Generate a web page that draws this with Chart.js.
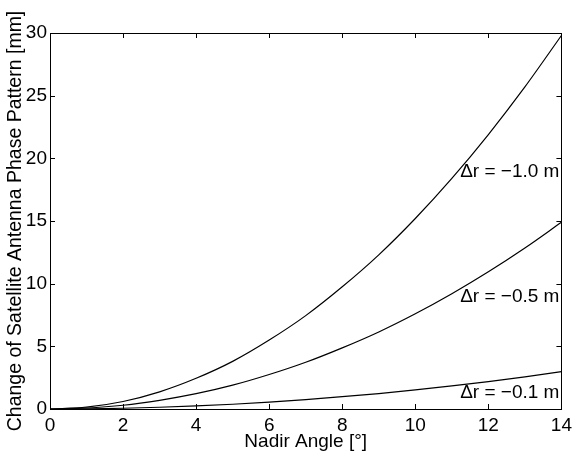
<!DOCTYPE html>
<html>
<head>
<meta charset="utf-8">
<script src="https://cdn.jsdelivr.net/npm/chart.js@4"></script>
<style>
  html, body { margin: 0; padding: 0; background: #fff; }
  #wrap { width: 577px; height: 453px; position: relative; }
</style>
</head>
<body>
<div id="wrap"><canvas id="chart"></canvas></div>
<script>
const nadirAngles = [0, 1, 2, 3, 4, 5, 6, 7, 8, 9, 10, 11, 12, 13, 14];
const dr10 = [0, 0.15, 0.6, 1.37, 2.45, 3.8, 5.5, 7.45, 9.75, 12.3, 15.2, 18.4, 21.9, 25.7, 29.8];
const dr05 = [0, 0.08, 0.3, 0.69, 1.22, 1.9, 2.75, 3.73, 4.88, 6.15, 7.6, 9.2, 10.95, 12.85, 14.9];
const dr01 = [0, 0.015, 0.06, 0.14, 0.25, 0.38, 0.55, 0.75, 0.98, 1.23, 1.52, 1.84, 2.19, 2.57, 2.98];
const xTicks = [0, 2, 4, 6, 8, 10, 12, 14];
const yTicks = [0, 5, 10, 15, 20, 25, 30];
const curveLabels = [
    { text: '\u0394r = \u22121.0 m', y: 18.9 },
    { text: '\u0394r = \u22120.5 m', y: 8.95 },
    { text: '\u0394r = \u22120.1 m', y: 1.3 }
];

const FONT = '"Liberation Sans", Arial, Helvetica, sans-serif';

function toPoints(values) {
    return nadirAngles.map((x, i) => ({ x: x, y: values[i] }));
}

// Rahmen + nach innen zeigende Ticks (MATLAB-Stil) und Kurvenbeschriftungen
const frame = {
    id: 'frame',
    afterDatasetsDraw(chart) {
        const { ctx, chartArea: a, scales } = chart;
        const len = 5;
        ctx.save();
        ctx.strokeStyle = '#000';
        ctx.lineWidth = 1;
        ctx.beginPath();
        xTicks.forEach(v => {
            const px = Math.round(scales.x.getPixelForValue(v)) + 0.5;
            ctx.moveTo(px, a.bottom); ctx.lineTo(px, a.bottom - len);
            ctx.moveTo(px, a.top); ctx.lineTo(px, a.top + len);
        });
        yTicks.forEach(v => {
            const py = Math.round(scales.y.getPixelForValue(v)) + 0.5;
            ctx.moveTo(a.left, py); ctx.lineTo(a.left + len, py);
            ctx.moveTo(a.right, py); ctx.lineTo(a.right - len, py);
        });
        ctx.stroke();
        ctx.strokeRect(Math.round(a.left) + 0.5, Math.round(a.top) + 0.5,
            Math.round(a.right - a.left), Math.round(a.bottom - a.top));

        ctx.fillStyle = '#000';
        ctx.font = '19px ' + FONT;
        ctx.textAlign = 'right';
        ctx.textBaseline = 'middle';
        curveLabels.forEach(l => {
            ctx.fillText(l.text, a.right - 2, scales.y.getPixelForValue(l.y));
        });
        ctx.restore();
    }
};

const lineStyle = {
    borderColor: '#000',
    borderWidth: 1.2,
    pointRadius: 0,
    fill: false,
    tension: 0.4,
    cubicInterpolationMode: 'monotone'
};

new Chart(document.getElementById('chart'), {
    type: 'line',
    data: {
        datasets: [
            Object.assign({ label: '\u0394r = \u22121.0 m', data: toPoints(dr10) }, lineStyle),
            Object.assign({ label: '\u0394r = \u22120.5 m', data: toPoints(dr05) }, lineStyle),
            Object.assign({ label: '\u0394r = \u22120.1 m', data: toPoints(dr01) }, lineStyle)
        ]
    },
    options: {
        responsive: true,
        maintainAspectRatio: false,
        animation: false,
        layout: { padding: { top: 33, right: 12, left: 0, bottom: 0 } },
        plugins: {
            legend: { display: false },
            tooltip: { enabled: false }
        },
        scales: {
            x: {
                type: 'linear',
                min: 0,
                max: 14,
                grid: { display: false, drawTicks: false },
                border: { display: false },
                ticks: {
                    stepSize: 2,
                    color: '#000',
                    padding: 5,
                    maxRotation: 0,
                    font: { family: FONT, size: 19 }
                },
                title: {
                    display: true,
                    text: 'Nadir Angle [\u00b0]',
                    color: '#000',
                    padding: { top: -5, bottom: 0 },
                    font: { family: FONT, size: 19 }
                },
                afterFit(scale) { scale.height = 44; }
            },
            y: {
                min: 0,
                max: 30,
                grid: { display: false, drawTicks: false },
                border: { display: false },
                ticks: {
                    stepSize: 5,
                    color: '#000',
                    padding: 3,
                    font: { family: FONT, size: 19 }
                },
                title: {
                    display: true,
                    text: 'Change of Satellite Antenna Phase Pattern [mm]',
                    color: '#000',
                    padding: { top: 4, bottom: 0 },
                    font: { family: FONT, size: 19.5 }
                },
                afterFit(scale) { scale.width = 50; }
            }
        }
    },
    plugins: [frame]
});
</script>
</body>
</html>
